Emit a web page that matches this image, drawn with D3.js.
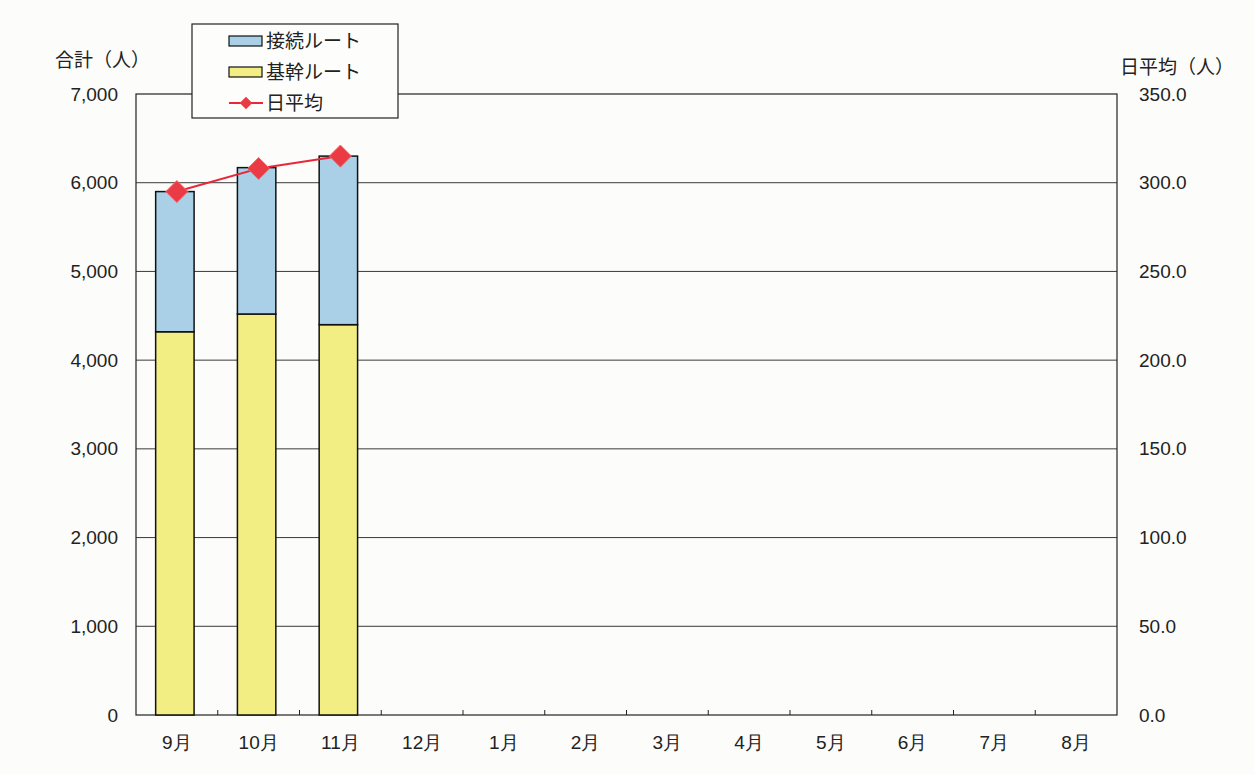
<!DOCTYPE html>
<html>
<head>
<meta charset="utf-8">
<script src="https://cdn.jsdelivr.net/npm/d3@7"></script>
<style>
  body { margin: 0; background: #fcfcfa; }
  svg { font-family: "Noto Sans CJK JP", "Noto Sans", sans-serif; }
</style>
</head>
<body>
<div id="chart"></div>
<script>
var months = ["9月", "10月", "11月", "12月", "1月", "2月", "3月", "4月", "5月", "6月", "7月", "8月"];
var kikanRoute = [4320, 4520, 4400];     // 基幹ルート
var setsuzokuRoute = [1580, 1650, 1900]; // 接続ルート
var dailyAvg = [295, 308, 315];          // 日平均
var leftTicks = [0, 1000, 2000, 3000, 4000, 5000, 6000, 7000];
var rightTicks = [0, 50, 100, 150, 200, 250, 300, 350];

var width = 1254, height = 774;
var margin = {top: 94, right: 137, bottom: 59, left: 136},
    width_g = width - margin.left - margin.right,
    height_g = height - margin.top - margin.bottom;

var svg = d3.select("#chart").append("svg")
    .attr("width", width)
    .attr("height", height);

var frg = svg.append("g")
    .attr("transform", "translate(" + margin.left + "," + margin.top + ")");

var x = d3.scaleBand().domain(months).range([0, width_g]).paddingInner(0.53).paddingOuter(0.265);
var y = d3.scaleLinear().domain([0, 7000]).range([height_g, 0]);
var y2 = d3.scaleLinear().domain([0, 350]).range([height_g, 0]);

// gridlines
frg.append("g").selectAll("line")
    .data(leftTicks.slice(1, -1))
    .enter().append("line")
    .attr("x1", 0).attr("x2", width_g)
    .attr("y1", function(d) { return y(d); })
    .attr("y2", function(d) { return y(d); })
    .attr("stroke", "#3a3a3a").attr("stroke-width", 1);

// plot frame
frg.append("rect")
    .attr("width", width_g).attr("height", height_g)
    .attr("fill", "none").attr("stroke", "#222").attr("stroke-width", 1.2);

// stacked bars
var stackdata = kikanRoute.map(function(v, i) {
    return {month: months[i], kikan: v, setsuzoku: setsuzokuRoute[i]};
});
var series = d3.stack().keys(["kikan", "setsuzoku"])(stackdata);
var colors = {kikan: "#f3ee84", setsuzoku: "#a9d0e6"};

frg.append("g").selectAll("g")
    .data(series)
    .enter().append("g")
    .attr("fill", function(d) { return colors[d.key]; })
    .selectAll("rect")
    .data(function(d) { return d; })
    .enter().append("rect")
    .attr("x", function(d) { return x(d.data.month) - 2; })
    .attr("width", x.bandwidth())
    .attr("y", function(d) { return y(d[1]); })
    .attr("height", function(d) { return y(d[0]) - y(d[1]); })
    .attr("stroke", "#111").attr("stroke-width", 1.5);

// daily average line
var line = d3.line()
    .x(function(d, i) { return x(months[i]) + x.bandwidth() / 2; })
    .y(function(d) { return y2(d); });

frg.append("path")
    .datum(dailyAvg)
    .attr("d", line)
    .attr("fill", "none")
    .attr("stroke", "#e8283a")
    .attr("stroke-width", 2);

var diamond = d3.symbol().type(d3.symbolDiamond2).size(310);
frg.append("g").selectAll("path")
    .data(dailyAvg)
    .enter().append("path")
    .attr("d", diamond)
    .attr("transform", function(d, i) {
        return "translate(" + (x(months[i]) + x.bandwidth() / 2) + "," + y2(d) + ")";
    })
    .attr("fill", "#ea3b44")
    .attr("stroke", "#f06a70").attr("stroke-width", 1);

// x axis
var xAxis = d3.axisBottom(x).tickSize(0).tickPadding(21);
var xg = frg.append("g")
    .attr("transform", "translate(0," + height_g + ")")
    .call(xAxis);
xg.select(".domain").remove();
xg.selectAll("text").attr("font-size", 19).attr("fill", "#222");

// category boundary ticks
var step = x.step();
frg.append("g").selectAll("line")
    .data(d3.range(1, months.length))
    .enter().append("line")
    .attr("x1", function(d) { return d * step; })
    .attr("x2", function(d) { return d * step; })
    .attr("y1", height_g).attr("y2", height_g - 5)
    .attr("stroke", "#222");

// left axis
var yAxis = d3.axisLeft(y).tickValues(leftTicks).tickSize(0).tickPadding(18)
    .tickFormat(d3.format(","));
var yg = frg.append("g").call(yAxis);
yg.select(".domain").remove();
yg.selectAll("text").attr("font-size", 19).attr("fill", "#222");

// right axis
var y2Axis = d3.axisRight(y2).tickValues(rightTicks).tickSize(0).tickPadding(22)
    .tickFormat(d3.format(".1f"));
var y2g = frg.append("g")
    .attr("transform", "translate(" + width_g + ",0)")
    .call(y2Axis);
y2g.select(".domain").remove();
y2g.selectAll("text").attr("font-size", 19).attr("fill", "#222");

// axis titles
svg.append("text")
    .attr("x", 55).attr("y", 67)
    .attr("font-size", 19).attr("fill", "#222")
    .text("合計（人）");
svg.append("text")
    .attr("x", 1120).attr("y", 74)
    .attr("font-size", 19).attr("fill", "#222")
    .text("日平均（人）");

// legend
var legend = svg.append("g").attr("transform", "translate(192,24)");
legend.append("rect")
    .attr("width", 206).attr("height", 94)
    .attr("fill", "#fdfdfb").attr("stroke", "#222").attr("stroke-width", 1.2);

var legendItems = [
    {label: "接続ルート", type: "bar", color: colors.setsuzoku},
    {label: "基幹ルート", type: "bar", color: colors.kikan},
    {label: "日平均", type: "line", color: "#e8283a"}
];
var items = legend.selectAll("g.item")
    .data(legendItems)
    .enter().append("g")
    .attr("class", "item")
    .attr("transform", function(d, i) { return "translate(0," + (17 + i * 31) + ")"; });

items.filter(function(d) { return d.type == "bar"; })
    .append("rect")
    .attr("x", 37).attr("y", -5)
    .attr("width", 33).attr("height", 10)
    .attr("fill", function(d) { return d.color; })
    .attr("stroke", "#111").attr("stroke-width", 1.2);

var lineItems = items.filter(function(d) { return d.type == "line"; });
lineItems.append("line")
    .attr("x1", 37).attr("x2", 71).attr("y1", 0).attr("y2", 0)
    .attr("stroke", "#e8283a").attr("stroke-width", 2);
lineItems.append("path")
    .attr("d", d3.symbol().type(d3.symbolDiamond2).size(100))
    .attr("transform", "translate(54,0)")
    .attr("fill", "#ea3b44");

items.append("text")
    .attr("x", 74).attr("y", 7)
    .attr("font-size", 19).attr("fill", "#222")
    .text(function(d) { return d.label; });
</script>
</body>
</html>
